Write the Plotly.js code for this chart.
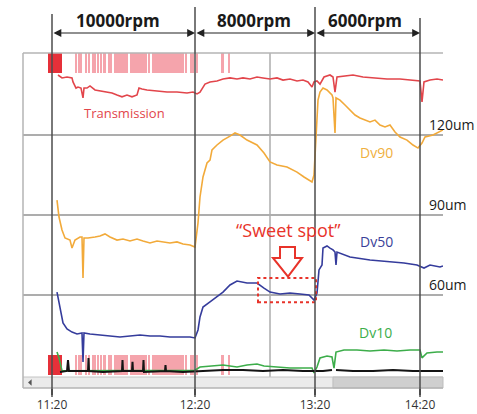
<!DOCTYPE html>
<html><head><meta charset="utf-8">
<script src="https://cdn.plot.ly/plotly-3.0.1.min.js"></script>
<style>html,body{margin:0;padding:0;background:#fff;}#chart{width:477px;height:414px;}</style>
</head><body><div id="chart"></div>
<script>
// ---- data (x = sample index along the time axis, y = displayed size scale in um) ----
const timeTicks = [29, 172, 292, 397];
const timeLabels = ["11:20", "12:20", "13:20", "14:20"];
const speedLabels = ["10000rpm", "8000rpm", "6000rpm"];
const sizeTicks = [60, 90, 120];
const sizeTickLabels = ["60um", "90um", "120um"];
const seriesNames = ["Transmission", "Dv90", "Dv50", "Dv10"];

const transT = [35,39,44,49,50,53,55,58,60,61,64,67,72,77,84,89,94,99,104,109,114,116,119,124,134,144,154,164,170,174,177,182,187,194,200,207,214,220,227,234,240,247,254,260,267,274,280,285,289,291,294,297,301,307,310,312,314,320,330,340,350,364,377,390,397,399,401,407,414,420];
const transV = [142.5,141.4,141.75,141.4,139.9,137.6,138.0,137.6,133.9,137.6,137.6,138.4,136.9,136.5,136.1,135.75,135.0,134.3,135.0,134.3,135.0,137.6,137.25,136.9,136.5,136.1,136.1,135.75,136.1,135.4,136.1,139.1,139.9,140.25,141.0,141.4,141.0,141.4,141.0,141.75,141.4,141.0,141.4,140.6,141.0,140.25,140.6,139.9,138.0,139.9,140.25,139.1,141.75,142.5,141.75,136.1,141.75,142.1,142.5,141.75,141.4,141.0,141.0,140.6,140.25,132.4,139.9,140.6,141.0,140.6];

const d90T = [34,36,39,42,47,49,52,57,59,60,61,65,72,77,82,87,94,100,107,114,120,127,134,140,147,154,160,167,172,175,177,180,184,187,189,194,200,207,212,217,224,234,241,247,254,264,274,281,289,291,293,295,297,300,304,309,310,312,313,317,322,327,332,337,342,347,352,357,362,367,372,377,384,390,395,399,402,410,420];
const d90V = [95.6,89.25,84.4,81.4,80.6,77.6,80.6,81.75,81.75,66.4,81.4,81.4,81.75,82.1,82.9,81.75,80.6,81.0,80.25,81.0,80.25,79.5,80.25,79.9,79.5,79.9,79.1,78.75,78.0,87.0,96.75,104.25,109.5,110.6,114.4,116.25,118.1,119.6,120.75,120.0,118.1,116.25,113.25,109.9,108.75,108.0,106.1,104.25,102.4,105.0,121.9,133.1,136.1,137.6,136.9,135.0,133.9,120.75,133.9,133.1,131.25,129.4,127.5,126.4,125.6,124.9,125.6,123.75,123.0,123.75,121.1,119.25,118.1,116.25,115.1,117.0,119.25,120.0,121.9];

const d50T = [34,37,40,44,49,54,59,60,61,67,77,87,97,107,117,127,137,147,157,167,172,175,177,180,187,194,200,207,214,224,234,241,247,257,267,277,286,291,294,296,299,300,304,307,310,312,313,314,327,347,367,381,394,401,407,417,420];
const d50V = [61.1,55.0,49.5,47.25,46.1,45.4,45.75,34.9,45.75,45.4,45.0,44.6,44.25,44.6,45.0,44.6,44.6,44.25,44.25,44.25,43.9,46.9,51.75,55.5,57.4,59.25,61.1,63.75,65.25,64.5,64.5,62.6,61.1,60.4,60.75,60.4,60.0,58.1,60.75,69.4,71.25,77.6,78.4,77.6,76.9,76.1,71.25,76.1,74.25,73.1,72.4,72.0,71.25,70.1,71.25,70.5,70.9];

const d10T = [34,36,39,60,100,140,172,177,190,200,214,224,234,241,254,267,281,289,291,294,297,304,309,311,313,321,334,347,361,374,387,397,399,404,414,420];
const d10V = [38.6,36.4,31.6,31.6,31.6,31.6,31.8,33.0,33.4,33.75,33.0,33.75,34.1,33.4,33.0,32.6,32.6,32.6,30.75,33.0,36.4,37.1,36.75,32.6,38.6,39.4,39.4,39.0,39.4,39.0,39.4,39.4,36.4,38.25,38.6,38.6];

const baseT = [37,44,45,46,55,65,65.5,66,80,99,99.5,100,109,109.5,110,120,120.5,121,142,142.5,143,160,180,200,220,240,260,280,300,309,310,313,330,350,370,390,420];
const baseV = [31.1,31.5,35.6,31.5,31.5,31.5,36.4,31.5,31.1,31.5,35.6,31.5,31.5,34.9,31.5,31.5,35.6,31.1,31.5,33.75,31.5,31.1,31.5,31.9,31.9,31.5,31.9,31.5,31.5,31.9,null,31.9,31.5,31.5,31.9,31.5,31.5];

// transmission event markers (sample index of each event)
const eventT = [53,55.75,58.25,63,66,70,72.25,75,77.75,81.5,86,88.25,92,94.5,97,99.5,102,104.25,108,110.5,113,115.5,118,120.5,123,125.75,130,132.5,135,137.5,140,142.5,145,147.5,150,152.5,155,157.5,160,162.75,167.75,169.75,173.75,199.5,206.25];
const overloadStart = [25];
const overloadEnd = [39];

// ---- styling / layout constants ----
const FONT = "Open Sans, Liberation Sans, sans-serif";
const C = {trans:'#e2454b', d90:'#f2aa3a', d50:'#353c9c', d10:'#3cad4a', base:'#141414', red:'#e8332a', grid:'#adadad', dark:'#4d4d4d'};
const topBand = [143.25, 150.75], botBand = [30.0, 37.5];
const X_RANGE = [0, 420], Y_RANGE = [25.125, 150.75];

function bandTraces(band){
  return [
    {type:'bar', x:eventT, y:eventT.map(()=>band[1]-band[0]), base:band[0], width:2.2,
     marker:{color:'rgba(236,80,95,0.52)', line:{width:0}}, hoverinfo:'skip'},
    {type:'bar', x:overloadStart.map((s,i)=>(s+overloadEnd[i])/2), y:overloadStart.map(()=>band[1]-band[0]),
     base:band[0], width:overloadStart.map((s,i)=>overloadEnd[i]-s),
     marker:{color:'rgba(228,30,40,0.92)', line:{width:0}}, hoverinfo:'skip'}
  ];
}
function line(x,y,color,w){ return {type:'scatter', mode:'lines', x:x, y:y, line:{color:color, width:w}, connectgaps:false, hoverinfo:'skip'}; }

const traces = [
  ...bandTraces(topBand), ...bandTraces(botBand),
  line(transT, transV, C.trans, 1.6),
  line(d90T, d90V, C.d90, 1.6),
  line(d50T, d50V, C.d50, 1.6),
  line(d10T, d10V, C.d10, 1.6),
  line(baseT, baseV, C.base, 2)
];

// pixel helpers for decorations outside data area
const PLOT_TOP = 53, PLOT_BOT = 388;
const py2paper = py => (PLOT_BOT - py) / (PLOT_BOT - PLOT_TOP);

const shapes = [
  {type:'line', xref:'x', yref:'paper', x0:247, x1:247, y0:py2paper(377), y1:1, line:{color:C.grid, width:1.5}, layer:'below'},
  {type:'rect', xref:'paper', yref:'paper', x0:0, x1:0.738, y0:0, y1:py2paper(377), fillcolor:'#ebebeb', line:{width:0}},
  {type:'rect', xref:'paper', yref:'paper', x0:0.738, x1:1, y0:0, y1:py2paper(377), fillcolor:'#cfcfcf', line:{color:'#bdbdbd', width:1}},
  {type:'path', xref:'paper', yref:'paper', path:'M 0.012,0.0164 L 0.0205,0.026 L 0.0205,0.0068 Z', fillcolor:'#555', line:{width:0}},
  {type:'line', xref:'paper', yref:'paper', x0:0, x1:1, y0:py2paper(377), y1:py2paper(377), line:{color:'#c4c4c4', width:1}},
  {type:'line', xref:'paper', yref:'paper', x0:0, x1:0, y0:0, y1:1, line:{color:'#b5b5b5', width:1.5}},
  {type:'line', xref:'paper', yref:'paper', x0:0, x1:1, y0:1, y1:1, line:{color:'#b5b5b5', width:1.5}},
  {type:'line', xref:'paper', yref:'paper', x0:0, x1:1, y0:0, y1:0, line:{color:'#b5b5b5', width:1.5}},
  // sweet-spot marker
  {type:'rect', xref:'x', yref:'y', x0:235, x1:293, y0:57.25, y1:66.4, line:{color:C.red, width:2, dash:'dot'}, fillcolor:'rgba(0,0,0,0)'},
  {type:'path', xref:'x', yref:'y', path:'M 257,78 L 272,78 L 272,73.9 L 279,73.9 L 265,66.9 L 250,73.9 L 257,73.9 Z', line:{color:C.red, width:2}, fillcolor:'rgba(255,255,255,0.9)'}
];
const lineTops = [14, 7, 7, 18];
timeTicks.forEach((t,i)=>{
  shapes.push({type:'line', xref:'x', yref:'paper', x0:t, x1:t, y0:py2paper(397), y1:py2paper(lineTops[i]), line:{color:C.dark, width:1.5}});
});

const annotations = [];
const speedX = [95, 231, 342];
speedLabels.forEach((s,i)=>{
  annotations.push({xref:'x', yref:'paper', x:speedX[i], y:py2paper(21), text:'<b>'+s+'</b>', showarrow:false,
    font:{family:FONT, size:17, color:'#1a1a1a'}, xanchor:'center', yanchor:'middle'});
  annotations.push({xref:'x', yref:'paper', x:timeTicks[i+1], y:py2paper(33), axref:'x', ayref:'pixel', ax:timeTicks[i], ay:0,
    text:'', showarrow:true, arrowhead:2, startarrowhead:2, arrowside:'end+start', arrowsize:1.3, startarrowsize:1.3,
    arrowwidth:1.2, arrowcolor:'#222', standoff:0, startstandoff:0});
});
sizeTicks.forEach((v,i)=>{
  annotations.push({xref:'x', yref:'y', x:404, y:v, text:sizeTickLabels[i], showarrow:false, xanchor:'left', yanchor:'bottom',
    font:{family:FONT, size:14, color:'#1a1a1a'}, yshift:-1});
});
const labelPos = [[101,128.25,C.trans,13],[353,113.6,'#f0b040',14],[353,79.9,'#3a3f99',14],[352,46.1,'#3cad4a',14]];
seriesNames.forEach((n,i)=>{
  const p = labelPos[i];
  annotations.push({xref:'x', yref:'y', x:p[0], y:p[1], text:n, showarrow:false, font:{family:FONT, size:p[3], color:p[2]}});
});
annotations.push({xref:'x', yref:'y', x:265, y:84.4, text:'\u201cSweet spot\u201d', showarrow:false, font:{family:FONT, size:18, color:C.red}});

const layout = {
  width:477, height:414,
  margin:{l:23, r:34, t:53, b:26, pad:0},
  paper_bgcolor:'#fff', plot_bgcolor:'#fff',
  showlegend:false, hovermode:false, barmode:'overlay', bargap:0,
  font:{family:FONT},
  xaxis:{range:X_RANGE, showgrid:false, zeroline:false, showline:false, tickmode:'array', tickvals:timeTicks, ticktext:timeLabels,
         ticks:'outside', ticklen:6, tickwidth:1.5, tickcolor:C.dark, tickfont:{family:FONT, size:12, color:'#333'}},
  yaxis:{range:Y_RANGE, showgrid:true, gridcolor:C.grid, gridwidth:1.5, zeroline:false, showline:false, tickmode:'array',
         tickvals:sizeTicks, showticklabels:false, ticks:''},
  shapes:shapes, annotations:annotations
};
Plotly.newPlot('chart', traces, layout, {staticPlot:true, displayModeBar:false});
</script>
</body></html>
